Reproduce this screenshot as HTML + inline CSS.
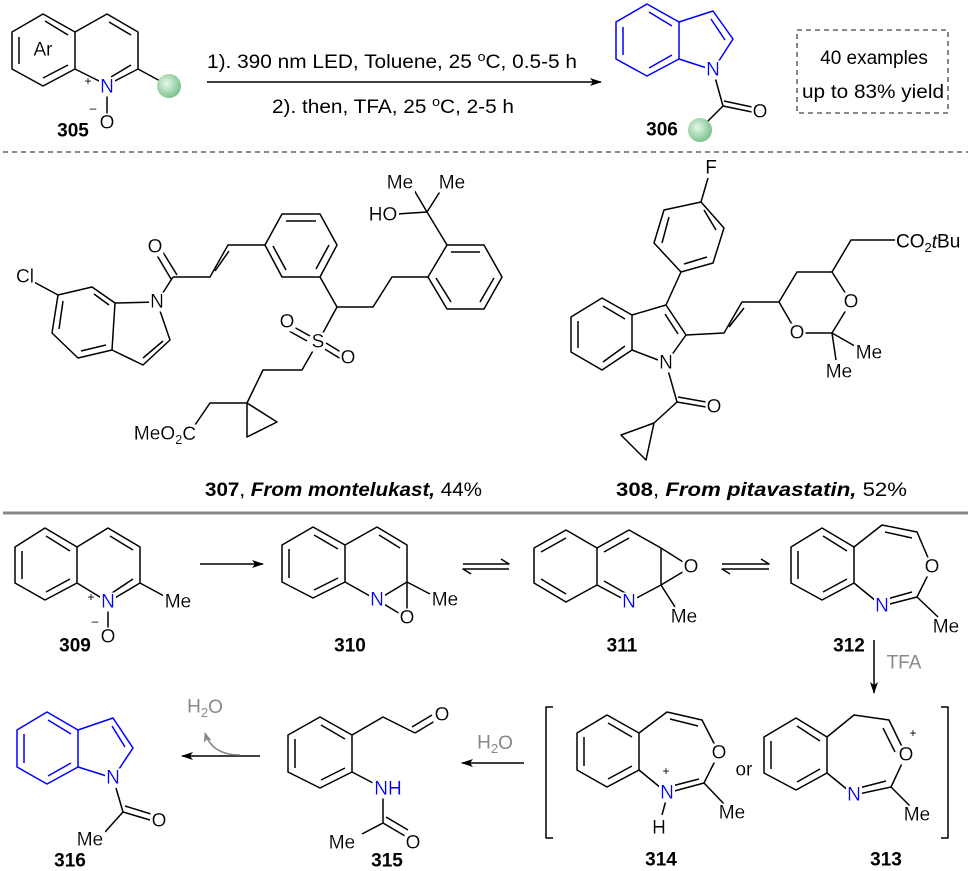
<!DOCTYPE html>
<html><head><meta charset="utf-8"><style>
html,body{margin:0;padding:0;background:#fff;}
svg{display:block;}
text{font-family:"Liberation Sans",Arial,sans-serif;}
.a{font-size:19px;text-anchor:middle;dominant-baseline:central;filter:url(#bg);}
.b{fill:#0000ff;}
.n{font-size:19px;font-weight:bold;text-anchor:middle;dominant-baseline:central;}
.g{fill:#888;}
.s{font-size:12px;}
</style></head><body>
<svg width="968" height="871" viewBox="0 0 968 871" xmlns="http://www.w3.org/2000/svg">
<defs>
<filter id="bg" x="-0.05" y="0.05" width="1.1" height="0.9"><feFlood flood-color="#fff"/><feComposite in="SourceGraphic" operator="over"/></filter>
<radialGradient id="ball" cx="0.4" cy="0.4" r="0.6"><stop offset="0" stop-color="#e8f6ea"/><stop offset="1" stop-color="#7cc48e"/></radialGradient>
<marker id="ah" markerWidth="12" markerHeight="8" refX="11" refY="4" orient="auto" markerUnits="userSpaceOnUse"><path d="M0,0 L12,4 L0,8 L3,4 z" fill="#000"/></marker>
<marker id="ahg" markerWidth="10" markerHeight="8" refX="9" refY="4" orient="auto" markerUnits="userSpaceOnUse"><path d="M0,0 L10,4 L0,8 L2.5,4 z" fill="#888"/></marker>
</defs>

<g fill="none" stroke="#000" stroke-width="1.5" stroke-linejoin="round">
<!-- 305 -->
<polygon points="43,14 75,32 75,69 43,86 12,69 12,32"/>
<polyline points="75,32 107,14 138,32 138,69 107,85 75,69"/>
<line x1="19" y1="37" x2="19" y2="64"/><line x1="43" y1="78" x2="68" y2="65"/><line x1="45" y1="21" x2="68" y2="35"/>
<line x1="109" y1="22" x2="131" y2="35"/><line x1="111" y1="77" x2="131" y2="65"/>
<line x1="138" y1="69" x2="162" y2="82"/><line x1="107" y1="85" x2="107" y2="115"/>
<line x1="207" y1="82" x2="601" y2="82" marker-end="url(#ah)"/>
<g stroke="#0000ff">
<polygon points="647,4 679,22 679,59 647,76 616,59 616,22"/>
<polyline points="679,22 713,11 733,39 713,70 679,59"/>
<line x1="623" y1="27" x2="623" y2="55"/><line x1="649" y1="12" x2="672" y2="26"/><line x1="672" y1="55" x2="649" y2="68"/>
<line x1="711" y1="19" x2="725" y2="40"/>
</g>
<line x1="713" y1="70" x2="723" y2="106"/><line x1="723" y1="106" x2="752" y2="112"/><line x1="724" y1="101" x2="752" y2="107"/><line x1="723" y1="106" x2="705" y2="124"/>
<line x1="3" y1="152" x2="968" y2="152" stroke="#444" stroke-dasharray="5,4" stroke-width="1.3"/>
<rect x="797" y="30" width="151" height="83" stroke="#444" stroke-dasharray="5,4" stroke-width="1.3"/>
<line x1="3" y1="513" x2="968" y2="513" stroke="#888" stroke-width="3"/>

<!-- 307 -->
<polygon points="58,295 92,287 115,303 112,350 78,358 52,333"/>
<line x1="94" y1="294" x2="109" y2="305"/><line x1="106" y1="345" x2="81" y2="351"/><line x1="59" y1="329" x2="63" y2="301"/>
<polyline points="115,303 157,302 170,340 143,365 112,350"/>
<line x1="163" y1="341" x2="143" y2="358"/>
<line x1="58" y1="295" x2="32" y2="281"/>
<line x1="157" y1="302" x2="173" y2="277"/>
<line x1="171" y1="279" x2="155" y2="252"/><line x1="177" y1="275" x2="161" y2="249"/>
<polyline points="173,277 210,277 228,245 265,245"/><line x1="215" y1="271" x2="229" y2="251"/>
<polygon points="265,245 282,214 320,214 337,245 320,277 282,277"/>
<line x1="286" y1="221" x2="316" y2="221"/><line x1="329" y1="245" x2="316" y2="269"/><line x1="286" y1="270" x2="273" y2="246"/>
<polyline points="320,277 337,307 373,307 392,277 428,277"/>
<polygon points="428,277 447,245 484,245 502,277 484,309 447,309"/>
<line x1="451" y1="252" x2="480" y2="252"/><line x1="436" y1="278" x2="451" y2="302"/><line x1="494" y1="278" x2="480" y2="302"/>
<line x1="447" y1="245" x2="427" y2="212"/><line x1="427" y1="212" x2="414" y2="190"/><line x1="427" y1="212" x2="441" y2="190"/><line x1="427" y1="212" x2="397" y2="214"/>
<line x1="337" y1="307" x2="318" y2="342"/>
<line x1="310" y1="336" x2="292" y2="326"/><line x1="307" y1="341" x2="289" y2="331"/>
<line x1="326" y1="343" x2="344" y2="354"/><line x1="323" y1="348" x2="341" y2="359"/>
<polyline points="318,342 302,370 263,370 247,403 210,403 195,425"/>
<polygon points="247,403 277,422 247,437"/>
<!-- 308 -->
<polygon points="701,202 724,228 713,263 681,272 654,243 664,210"/>
<line x1="704" y1="210" x2="716" y2="230"/><line x1="707" y1="257" x2="684" y2="264"/><line x1="662" y1="243" x2="669" y2="217"/>
<line x1="701" y1="202" x2="708" y2="178"/><line x1="681" y1="272" x2="666" y2="305"/>
<polygon points="602,298 632,315 632,350 602,370 571,352 571,317"/>
<line x1="603" y1="306" x2="625" y2="319"/><line x1="625" y1="346" x2="603" y2="362"/><line x1="578" y1="348" x2="578" y2="321"/>
<polyline points="632,315 666,305 686,335 666,363 632,350"/>
<line x1="665" y1="314" x2="678" y2="334"/>
<polyline points="686,335 724,333 742,302 779,302"/><line x1="729" y1="327" x2="744" y2="308"/>
<polyline points="779,302 797,272 832,272 851,302 832,333 797,333 779,302"/>
<polyline points="832,272 851,240 895,240"/>
<line x1="832" y1="333" x2="860" y2="349"/><line x1="832" y1="333" x2="836" y2="360"/>
<line x1="666" y1="363" x2="677" y2="402"/><line x1="677" y1="402" x2="706" y2="407"/><line x1="678" y1="397" x2="706" y2="402"/>
<line x1="677" y1="402" x2="654" y2="423"/><polygon points="654,423 621,435 646,460"/>

<!-- 309 -->
<polygon points="45,528 77,547 77,583 45,600 15,583 15,547"/>
<polyline points="77,547 108,528 140,547 140,583 108,602 77,583"/>
<line x1="22" y1="551" x2="22" y2="579"/><line x1="46" y1="536" x2="70" y2="551"/><line x1="70" y1="579" x2="46" y2="592"/>
<line x1="110" y1="536" x2="133" y2="550"/><line x1="133" y1="579" x2="112" y2="593"/>
<line x1="140" y1="583" x2="164" y2="596"/><line x1="108" y1="602" x2="108" y2="628"/>
<line x1="200" y1="564" x2="263" y2="564" marker-end="url(#ah)"/>
<!-- 310 -->
<polygon points="313,527 345,545 345,582 313,598 282,582 282,545"/>
<polyline points="345,545 377,527 407,545 407,582 377,600 345,582"/>
<line x1="289" y1="549" x2="289" y2="578"/><line x1="314" y1="535" x2="338" y2="549"/><line x1="338" y1="578" x2="314" y2="590"/>
<line x1="379" y1="535" x2="400" y2="548"/>
<line x1="377" y1="600" x2="407" y2="618"/><line x1="407" y1="582" x2="407" y2="618"/><line x1="407" y1="582" x2="430" y2="594"/>
<path d="M463,564 H509 L501,559"/><path d="M509,569 H463 L471,574"/>
<path d="M722,564 H769 L761,559"/><path d="M769,569 H722 L730,574"/>
<!-- 311 -->
<polyline points="597,548 566,530 534,548 534,583 566,602 597,585"/>
<line x1="541" y1="552" x2="566" y2="538"/><line x1="541" y1="579" x2="566" y2="594"/>
<polygon points="597,548 629,530 661,548 661,585 629,602 597,585"/>
<line x1="604" y1="552" x2="629" y2="538"/><line x1="604" y1="581" x2="627" y2="594"/>
<polyline points="661,548 691,567 661,585"/><line x1="661" y1="585" x2="675" y2="607"/>
<!-- 312 -->
<polygon points="822,528 854,547 854,583 822,600 791,583 791,547"/>
<line x1="798" y1="551" x2="798" y2="579"/><line x1="823" y1="536" x2="847" y2="551"/><line x1="847" y1="579" x2="823" y2="592"/>
<polyline points="854,547 882,525 917,532 932,567 917,597 882,606 854,583"/>
<line x1="885" y1="532" x2="912" y2="538"/><line x1="887" y1="599" x2="912" y2="592"/>
<line x1="917" y1="597" x2="938" y2="617"/>
<line x1="874" y1="640" x2="874" y2="693" marker-end="url(#ah)"/>
<polyline points="553,707 546,707 546,838 553,838"/><polyline points="941,707 948,707 948,838 941,838"/>
<!-- 314 -->
<polygon points="607,715 639,733 639,770 607,787 577,770 577,733"/>
<line x1="584" y1="737" x2="584" y2="766"/><line x1="608" y1="723" x2="632" y2="737"/><line x1="632" y1="766" x2="608" y2="779"/>
<polyline points="639,733 667,712 702,720 719,753 704,783 667,793 639,770"/>
<line x1="670" y1="719" x2="698" y2="726"/><line x1="672" y1="786" x2="699" y2="779"/>
<line x1="704" y1="783" x2="725" y2="805"/><line x1="666" y1="800" x2="662" y2="815"/>
<!-- 313 -->
<polygon points="796,718 827,737 827,773 796,790 764,773 764,737"/>
<line x1="771" y1="741" x2="771" y2="769"/><line x1="797" y1="726" x2="820" y2="741"/><line x1="820" y1="769" x2="797" y2="782"/>
<polyline points="827,737 854,715 889,720 906,755 891,787 854,795 827,773"/>
<line x1="883" y1="728" x2="895" y2="752"/><line x1="859" y1="788" x2="886" y2="781"/>
<line x1="891" y1="787" x2="911" y2="807"/>
<line x1="524" y1="763" x2="462" y2="763" marker-end="url(#ah)"/>
<!-- 315 -->
<polygon points="320,717 352,735 352,772 320,788 288,772 288,735"/>
<line x1="295" y1="739" x2="295" y2="768"/><line x1="321" y1="725" x2="345" y2="739"/><line x1="345" y1="768" x2="321" y2="780"/>
<polyline points="352,735 383,717 415,733"/><line x1="415" y1="733" x2="435" y2="721"/><line x1="412" y1="727" x2="432" y2="715"/>
<line x1="352" y1="772" x2="375" y2="784"/><line x1="383" y1="798" x2="383" y2="823"/>
<line x1="383" y1="823" x2="405" y2="836"/><line x1="386" y1="817" x2="408" y2="830"/><line x1="383" y1="823" x2="362" y2="834"/>
<line x1="260" y1="756" x2="182" y2="756" marker-end="url(#ah)"/>
<path d="M240,755 Q212,755 205,733" stroke="#888" marker-end="url(#ahg)"/>
<!-- 316 -->
<g stroke="#0000ff">
<polygon points="47,712 78,730 78,767 47,784 17,767 17,730"/>
<line x1="24" y1="734" x2="24" y2="763"/><line x1="48" y1="720" x2="71" y2="734"/><line x1="71" y1="763" x2="48" y2="776"/>
<polyline points="78,730 113,718 133,748 113,778 78,767"/>
<line x1="112" y1="726" x2="125" y2="747"/>
</g>
<line x1="116" y1="788" x2="123" y2="812"/><line x1="123" y1="812" x2="150" y2="820"/><line x1="125" y1="806" x2="151" y2="814"/><line x1="123" y1="812" x2="105" y2="832"/>
</g>

<circle cx="169" cy="86" r="12" fill="url(#ball)"/>
<circle cx="700" cy="130" r="12" fill="url(#ball)"/>

<text x="43" y="50" class="a">Ar</text>
<text x="107" y="87" class="a b">N</text><text x="88" y="85" class="s" text-anchor="middle">+</text>
<text x="107" y="123" class="a">O</text><text x="93" y="112" class="s" text-anchor="middle">–</text>
<text x="73" y="131" class="n">305</text>
<text x="207" y="68" font-size="19" textLength="370" lengthAdjust="spacingAndGlyphs">1). 390 nm LED, Toluene, 25 <tspan font-size="13" dy="-7">o</tspan><tspan dy="7">C, 0.5-5 h</tspan></text>
<text x="272" y="113" font-size="19" textLength="242" lengthAdjust="spacingAndGlyphs">2). then, TFA, 25 <tspan font-size="13" dy="-7">o</tspan><tspan dy="7">C, 2-5 h</tspan></text>
<text x="713" y="70" class="a b">N</text>
<text x="760" y="112" class="a">O</text>
<text x="662" y="130" class="n">306</text>
<text x="874" y="64" font-size="19" text-anchor="middle">40 examples</text>
<text x="873" y="98" font-size="19" text-anchor="middle" textLength="142" lengthAdjust="spacingAndGlyphs">up to 83% yield</text>

<text x="25" y="277" class="a">Cl</text>
<text x="157" y="302" class="a">N</text>
<text x="155" y="247" class="a">O</text>
<text x="400" y="183" class="a">Me</text><text x="452" y="183" class="a">Me</text>
<text x="383" y="215" class="a">HO</text>
<text x="318" y="342" class="a">S</text>
<text x="287" y="322" class="a">O</text><text x="348" y="358" class="a">O</text>
<text x="165" y="434" class="a">MeO<tspan font-size="13" dy="5">2</tspan><tspan dy="-5">C</tspan></text>
<text x="205" y="496" font-size="19" textLength="277" lengthAdjust="spacingAndGlyphs"><tspan font-weight="bold">307</tspan>, <tspan font-weight="bold" font-style="italic">From montelukast,</tspan> 44%</text>

<text x="711" y="168" class="a">F</text>
<text x="666" y="363" class="a">N</text>
<text x="714" y="407" class="a">O</text>
<text x="851" y="302" class="a">O</text><text x="797" y="333" class="a">O</text>
<text x="869" y="353" class="a">Me</text><text x="839" y="372" class="a">Me</text>
<text x="896" y="242" font-size="19" dominant-baseline="central">CO<tspan font-size="13" dy="5">2</tspan><tspan dy="-5" font-style="italic">t</tspan>Bu</text>
<text x="616" y="496" font-size="19" textLength="291" lengthAdjust="spacingAndGlyphs"><tspan font-weight="bold">308</tspan>,  <tspan font-weight="bold" font-style="italic">From pitavastatin,</tspan> 52%</text>

<text x="108" y="602" class="a b">N</text><text x="91" y="601" class="s" text-anchor="middle">+</text>
<text x="108" y="637" class="a">O</text><text x="95" y="625" class="s" text-anchor="middle">–</text>
<text x="178" y="602" class="a">Me</text>
<text x="75" y="646" class="n">309</text>
<text x="377" y="600" class="a b">N</text><text x="407" y="618" class="a">O</text><text x="445" y="600" class="a">Me</text>
<text x="350" y="646" class="n">310</text>
<text x="629" y="602" class="a b">N</text><text x="691" y="567" class="a">O</text><text x="684" y="617" class="a">Me</text>
<text x="622" y="646" class="n">311</text>
<text x="882" y="606" class="a b">N</text><text x="932" y="567" class="a">O</text><text x="946" y="627" class="a">Me</text>
<text x="849" y="646" class="n">312</text>
<text x="904" y="663" font-size="19" class="g" text-anchor="middle" dominant-baseline="central">TFA</text>
<text x="667" y="793" class="a b">N</text><text x="666" y="775" class="s" text-anchor="middle">+</text>
<text x="719" y="753" class="a">O</text><text x="659" y="828" class="a">H</text><text x="732" y="813" class="a">Me</text>
<text x="744" y="770" class="a">or</text>
<text x="661" y="860" class="n">314</text>
<text x="854" y="795" class="a b">N</text><text x="906" y="755" class="a">O</text><text x="913" y="737" class="s" text-anchor="middle">+</text>
<text x="917" y="815" class="a">Me</text>
<text x="886" y="860" class="n">313</text>
<text x="495" y="743" font-size="19" class="g" text-anchor="middle" dominant-baseline="central">H<tspan font-size="13" dy="5">2</tspan><tspan dy="-5">O</tspan></text>
<text x="442" y="715" class="a">O</text>
<text x="388" y="789" class="a b">NH</text>
<text x="413" y="843" class="a">O</text><text x="342" y="843" class="a">Me</text>
<text x="387" y="861" class="n">315</text>
<text x="205" y="707" font-size="19" class="g" text-anchor="middle" dominant-baseline="central">H<tspan font-size="13" dy="5">2</tspan><tspan dy="-5">O</tspan></text>
<text x="113" y="778" class="a b">N</text>
<text x="159" y="821" class="a">O</text><text x="90" y="840" class="a">Me</text>
<text x="70" y="861" class="n">316</text>
</svg>
</body></html>
